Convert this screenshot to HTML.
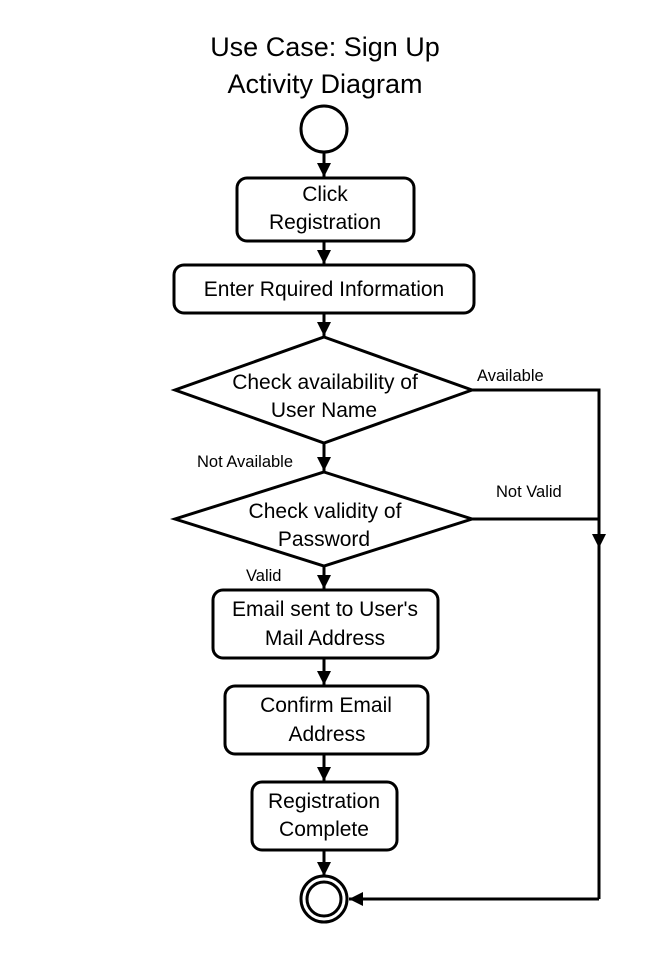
<!DOCTYPE html>
<html><head><meta charset="utf-8"><style>
html,body{margin:0;padding:0;background:#fff}
svg{display:block}
text{font-family:"Liberation Sans",sans-serif;fill:#000}
</style></head><body>
<svg width="649" height="961" viewBox="0 0 649 961" xmlns="http://www.w3.org/2000/svg">
<defs>
<marker id="b" markerWidth="14" markerHeight="14" refX="14" refY="7" orient="auto" markerUnits="userSpaceOnUse"><path d="M0,0 L14,7 L0,14 z" fill="#000"/></marker></defs>
<text x="325" y="56" font-size="27" text-anchor="middle">Use Case: Sign Up</text>
<text x="325" y="93" font-size="27" text-anchor="middle">Activity Diagram</text>
<g stroke="#000" stroke-width="3" fill="none">
<circle cx="324" cy="129" r="23"/>
<line x1="324" y1="153" x2="324" y2="177" marker-end="url(#b)"/>
<rect x="237" y="178" width="177" height="63" rx="10"/>
<line x1="324" y1="241" x2="324" y2="264" marker-end="url(#b)"/>
<rect x="174" y="265" width="300" height="48" rx="10"/>
<line x1="324" y1="313" x2="324" y2="336" marker-end="url(#b)"/>
<polygon points="324,337 472,390 324,443 175,390"/>
<line x1="324" y1="443" x2="324" y2="471" marker-end="url(#b)"/>
<polygon points="324,472 472,519 324,566 175,519"/>
<line x1="324" y1="566" x2="324" y2="589" marker-end="url(#b)"/>
<rect x="213" y="590" width="225" height="68" rx="10"/>
<line x1="324" y1="658" x2="324" y2="685" marker-end="url(#b)"/>
<rect x="225" y="686" width="203" height="68" rx="10"/>
<line x1="324" y1="754" x2="324" y2="781" marker-end="url(#b)"/>
<rect x="252" y="782" width="145" height="68" rx="10"/>
<line x1="324" y1="850" x2="324" y2="876" marker-end="url(#b)"/>
<circle cx="324" cy="899" r="23"/>
<circle cx="324" cy="899" r="17"/>
<polyline points="472,390 599,390 599,899"/>
<line x1="472" y1="519" x2="599" y2="519"/>
<line x1="599" y1="520" x2="599" y2="548" marker-end="url(#b)"/>
<line x1="599" y1="899" x2="349" y2="899" marker-end="url(#b)"/>
</g>
<g font-size="21" text-anchor="middle">
<text x="325" y="201">Click</text>
<text x="325" y="229">Registration</text>
<text x="324" y="296">Enter Rquired Information</text>
<text x="325" y="389">Check availability of</text>
<text x="324" y="417">User Name</text>
<text x="325" y="518">Check validity of</text>
<text x="324" y="546">Password</text>
<text x="325" y="616">Email sent to User's</text>
<text x="325" y="645">Mail Address</text>
<text x="326" y="712">Confirm Email</text>
<text x="327" y="741">Address</text>
<text x="324" y="808">Registration</text>
<text x="324" y="836">Complete</text>
</g>
<g font-size="16.5">
<text x="477" y="381">Available</text>
<text x="197" y="467">Not Available</text>
<text x="496" y="497">Not Valid</text>
<text x="246" y="581">Valid</text>
</g>
</svg>
</body></html>
